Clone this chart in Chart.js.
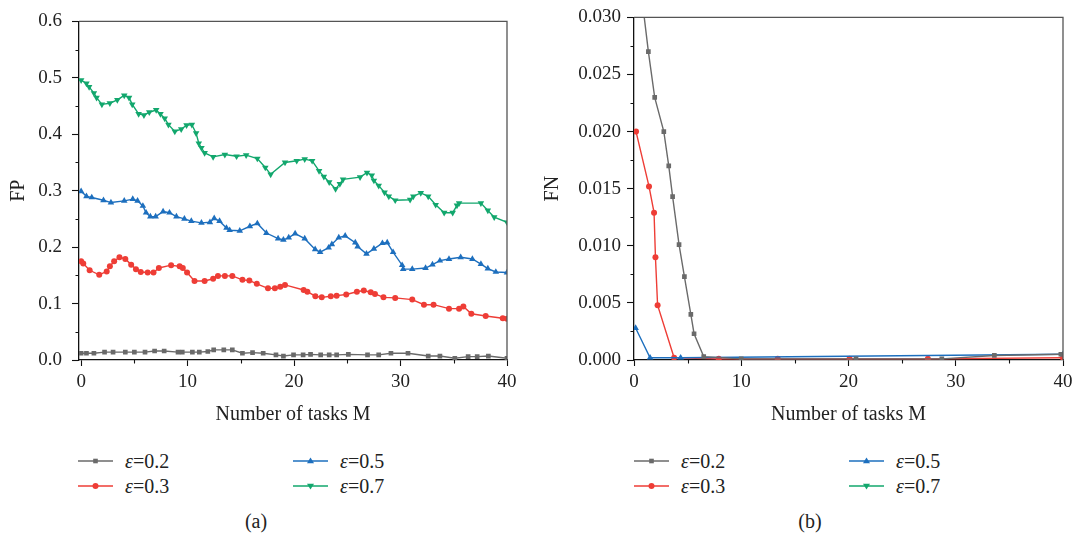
<!DOCTYPE html>
<html>
<head>
<meta charset="utf-8">
<script src="https://cdn.jsdelivr.net/npm/chart.js@4.4.1/dist/chart.umd.min.js"></script>
<style>
  body { margin: 0; background: #fff; width: 1072px; height: 542px; overflow: hidden; position: relative;
         font-family: 'Liberation Serif', 'DejaVu Serif', serif; color: #222; }
  .panel { position: absolute; top: 0; height: 432px; }
  .key { position: absolute; height: 24px; line-height: 24px; font-size: 20px; white-space: nowrap; }
  .key svg { position: absolute; left: 0; top: 6px; }
  .key span { position: absolute; }
  .cap { position: absolute; top: 510px; font-size: 20px; width: 60px; text-align: center; }
</style>
</head>
<body>
<div class="panel" style="left:0;width:536px"><canvas id="fpChart" width="536" height="432"></canvas></div>
<div class="panel" style="left:536px;width:580px"><canvas id="fnChart" width="580" height="432"></canvas></div>
<div id="legends"></div>
<div class="cap" style="left:226px">(a)</div>
<div class="cap" style="left:780px">(b)</div>

<script>
'use strict';

//#region Data

const seriesNames = ['0.2', '0.3', '0.5', '0.7'];
const seriesColors = ['#6a6a6a', '#ee3d36', '#1d6fbe', '#12a76d'];
const xTicks = [0, 10, 20, 30, 40];
const fpTicks = [0, 0.1, 0.2, 0.3, 0.4, 0.5, 0.6];
const fnTicks = [0, 0.005, 0.010, 0.015, 0.020, 0.025, 0.030];

// FP, panel (a): [tasks M, FP]
const fp02 = [[0,0.012],[0.5,0.012],[1.2,0.012],[2.2,0.014],[3.0,0.014],[4.15,0.014],[5.0,0.014],[6.0,0.014],
  [6.9,0.016],[7.8,0.016],[9.1,0.014],[9.5,0.014],[10.45,0.014],[11.1,0.014],[11.9,0.015],[12.45,0.018],
  [13.4,0.018],[14.2,0.018],[15.15,0.012],[16.1,0.013],[17.1,0.012],[18.3,0.009],[19.0,0.007],[19.95,0.009],
  [20.85,0.009],[21.55,0.010],[22.5,0.009],[23.3,0.009],[24.0,0.009],[25.1,0.010],[26.9,0.009],[27.95,0.009],
  [29.1,0.012],[30.7,0.012],[32.6,0.007],[33.7,0.007],[35.1,0.003],[36.35,0.006],[37.2,0.006],[38.25,0.007],[40,0.003]];
const fp03 = [[0,0.175],[0.2,0.171],[0.8,0.159],[1.7,0.151],[2.4,0.157],[2.7,0.166],[3.1,0.175],[3.6,0.182],
  [4.15,0.179],[4.7,0.169],[5.15,0.161],[5.6,0.156],[6.25,0.155],[6.8,0.155],[7.3,0.163],[8.45,0.168],
  [9.25,0.166],[9.55,0.163],[9.95,0.155],[10.65,0.140],[11.6,0.140],[12.4,0.144],[12.85,0.149],[13.5,0.149],
  [14.2,0.149],[15.15,0.142],[15.8,0.141],[16.5,0.135],[17.55,0.127],[18.2,0.127],[18.7,0.130],[19.15,0.133],
  [20.9,0.124],[21.25,0.121],[22.0,0.113],[22.6,0.111],[23.45,0.113],[24.0,0.114],[24.9,0.116],[25.9,0.121],
  [26.55,0.123],[27.2,0.120],[27.6,0.117],[28.4,0.111],[29.5,0.110],[31.1,0.107],[32.2,0.098],[33.1,0.098],
  [34.55,0.091],[35.5,0.091],[35.9,0.095],[36.65,0.082],[38.0,0.078],[39.6,0.074],[40,0.073]];
const fp05 = [[0,0.299],[0.5,0.290],[1.0,0.288],[2.1,0.283],[2.8,0.279],[4.05,0.282],[4.85,0.285],[5.3,0.282],
  [5.8,0.273],[6.1,0.261],[6.5,0.254],[7.0,0.254],[7.7,0.263],[8.3,0.261],[8.95,0.254],[9.7,0.250],
  [10.35,0.246],[11.3,0.243],[12.1,0.244],[12.5,0.251],[13.0,0.246],[13.65,0.234],[13.95,0.230],[14.9,0.229],
  [15.85,0.237],[16.55,0.242],[17.4,0.225],[18.5,0.215],[19.0,0.213],[19.5,0.217],[20.1,0.224],[21.0,0.215],
  [21.98,0.196],[22.45,0.191],[23.25,0.199],[23.55,0.205],[24.2,0.217],[24.8,0.220],[25.75,0.208],[25.97,0.201],
  [26.8,0.188],[27.5,0.197],[28.3,0.207],[28.75,0.208],[29.3,0.191],[30.15,0.168],[30.25,0.161],[31.1,0.161],
  [32.35,0.163],[33.0,0.169],[33.7,0.176],[34.55,0.179],[35.65,0.182],[36.75,0.179],[37.55,0.170],[38.2,0.162],
  [38.95,0.156],[40,0.155]];
const fp07 = [[0,0.496],[0.5,0.490],[0.75,0.484],[1.2,0.473],[1.45,0.465],[1.95,0.453],[2.7,0.455],[3.4,0.461],
  [4.05,0.469],[4.5,0.465],[4.8,0.453],[5.4,0.436],[5.9,0.434],[6.4,0.439],[7.05,0.443],[7.45,0.436],
  [7.85,0.428],[8.2,0.417],[8.8,0.405],[9.4,0.409],[9.9,0.416],[10.4,0.417],[10.8,0.402],[11.05,0.384],
  [11.3,0.376],[11.6,0.367],[12.4,0.360],[13.5,0.364],[14.6,0.361],[15.5,0.363],[16.55,0.357],[17.3,0.341],
  [17.8,0.329],[19.15,0.350],[20.25,0.353],[21.0,0.356],[21.7,0.353],[22.35,0.335],[22.8,0.325],[23.3,0.315],
  [23.9,0.303],[24.3,0.312],[24.6,0.320],[26.2,0.324],[26.85,0.332],[27.3,0.327],[27.5,0.318],[27.95,0.309],
  [28.5,0.297],[28.9,0.290],[29.5,0.283],[30.9,0.284],[31.2,0.290],[31.9,0.296],[32.6,0.290],[33.3,0.275],
  [34.1,0.261],[34.9,0.261],[35.3,0.274],[35.5,0.278],[37.55,0.278],[38.2,0.265],[38.8,0.253],[40,0.244]];

// FN, panel (b): [tasks M, FN]
const fn02 = [[0.7,0.032],[1.34,0.0270],[1.93,0.0230],[2.78,0.0200],[3.24,0.0170],[3.6,0.0143],[4.2,0.0101],
  [4.7,0.0073],[5.3,0.0040],[5.6,0.0023],[6.5,0.0003],[10,0.0001],[20.7,0.0001],[28.7,0.0001],[33.6,0.0004],[39.8,0.0005]];
const fn03 = [[0.19,0.0200],[1.4,0.0152],[1.87,0.0129],[2.0,0.0090],[2.2,0.0048],[3.74,0.0002],[7.9,0.0001],
  [13.4,0.0001],[20.1,0.0001],[27.4,0.0001],[40,0.0002]];
const fn05 = [[0.15,0.0028],[1.5,0.0002],[4.35,0.0002],[40,0.0005]];
const fn07 = [];

//#endregion

//#region Helpers

const FONT = "'Liberation Serif', 'DejaVu Serif', serif";
Chart.defaults.font.family = FONT;
Chart.defaults.color = '#222';

const markerStyles = [
  {pointStyle: 'rect', radius: 3.3, rotation: 0},
  {pointStyle: 'circle', radius: 3, rotation: 0},
  {pointStyle: 'triangle', radius: 3.8, rotation: 0},
  {pointStyle: 'triangle', radius: 3.8, rotation: 180}
];
// gray on top, then blue, red, green
const drawOrder = [0, 2, 1, 3];

function midpoints(arr) {
  const out = [];
  for (let i = 0; i < arr.length - 1; i++) {
    out.push((arr[i] + arr[i + 1]) / 2);
  }
  return out;
}

function toPoints(pairs) {
  return pairs.map(p => ({x: p[0], y: p[1]}));
}

function makeDataset(i, pairs) {
  const m = markerStyles[i];
  return {
    label: 'ε=' + seriesNames[i],
    data: toPoints(pairs),
    borderColor: seriesColors[i],
    backgroundColor: seriesColors[i],
    pointBackgroundColor: seriesColors[i],
    pointBorderColor: seriesColors[i],
    pointBorderWidth: 0,
    borderWidth: 1.4,
    tension: 0,
    pointStyle: m.pointStyle,
    pointRadius: m.radius,
    pointRotation: m.rotation,
    order: drawOrder[i]
  };
}

// box top/right edges and short minor ticks
const frameAndMinor = {
  id: 'frameAndMinor',
  afterDraw(chart, args, opts) {
    const {ctx, chartArea: a} = chart;
    const x = chart.scales.x;
    const y = chart.scales.y;
    ctx.save();
    ctx.strokeStyle = '#555';
    ctx.lineWidth = 1.3;
    ctx.beginPath();
    ctx.moveTo(a.left, a.top);
    ctx.lineTo(a.right, a.top);
    ctx.lineTo(a.right, a.bottom);
    ctx.stroke();
    ctx.strokeStyle = '#111';
    ctx.lineWidth = 1.1;
    ctx.beginPath();
    opts.xMinor.forEach(v => {
      const px = Math.round(x.getPixelForValue(v)) + 0.5;
      ctx.moveTo(px, a.bottom);
      ctx.lineTo(px, a.bottom + 3.5);
    });
    opts.yMinor.forEach(v => {
      const py = Math.round(y.getPixelForValue(v)) + 0.5;
      ctx.moveTo(a.left, py);
      ctx.lineTo(a.left - 3.5, py);
    });
    ctx.stroke();
    ctx.restore();
  }
};

function makeChart(canvasId, sets, opt) {
  const ctx = document.getElementById(canvasId).getContext('2d');
  return new Chart(ctx, {
    type: 'line',
    data: {datasets: sets.map((s, i) => makeDataset(i, s))},
    plugins: [frameAndMinor],
    options: {
      responsive: false,
      animation: false,
      layout: {padding: {top: 14, right: opt.padRight, bottom: 0, left: 0}},
      plugins: {
        legend: {display: false},
        tooltip: {enabled: false},
        frameAndMinor: {xMinor: midpoints(xTicks), yMinor: midpoints(opt.yTicks)}
      },
      scales: {
        x: {
          type: 'linear',
          min: opt.xMin,
          max: 40,
          afterBuildTicks: s => { s.ticks = xTicks.map(v => ({value: v})); },
          afterFit: s => { s.height = 72; },
          border: {color: '#111', width: 1.3},
          grid: {drawOnChartArea: false, tickLength: 6, color: '#111', tickWidth: 1.1},
          ticks: {font: {size: 19}, padding: 5, color: '#222', maxRotation: 0},
          title: {display: true, text: 'Number of tasks M', font: {size: 20}, color: '#222',
            padding: {top: 0, bottom: 5}}
        },
        y: {
          min: 0,
          max: opt.yMax,
          afterBuildTicks: s => { s.ticks = opt.yTicks.map(v => ({value: v})); },
          afterFit: s => { s.width = opt.yWidth; },
          border: {color: '#111', width: 1.3},
          grid: {drawOnChartArea: false, tickLength: 7, color: '#111', tickWidth: 1.1},
          ticks: {font: {size: 19}, padding: opt.tickPad, color: '#222',
            callback: v => v.toFixed(opt.digits)},
          title: {display: true, text: opt.yTitle, font: {size: 20}, color: '#222',
            padding: {top: opt.titlePad, bottom: 0}}
        }
      }
    }
  });
}

function renderLegend(left) {
  const holder = document.getElementById('legends');
  const cols = [0, 215];
  const rows = [449, 474];
  const layout = [[0, 0], [0, 1], [1, 0], [1, 1]];
  for (let i = 0; i < seriesNames.length; i++) {
    const [c, r] = layout[i];
    const item = document.createElement('div');
    item.className = 'key';
    item.style.left = (left + cols[c]) + 'px';
    item.style.top = rows[r] + 'px';
    const col = seriesColors[i];
    let mark;
    if (i === 0) mark = `<rect x="15.2" y="3.7" width="4.6" height="4.6" fill="${col}"/>`;
    else if (i === 1) mark = `<circle cx="17.5" cy="6" r="3" fill="${col}"/>`;
    else if (i === 2) mark = `<polygon points="17.5,2.6 21,8.2 14,8.2" fill="${col}"/>`;
    else mark = `<polygon points="17.5,9.4 21,3.8 14,3.8" fill="${col}"/>`;
    item.innerHTML = `<svg width="36" height="12"><line x1="0" y1="6" x2="35" y2="6" stroke="${col}" stroke-width="1.5"/>${mark}</svg>` +
      `<span style="left:47px;top:0"><i>ε</i>=${seriesNames[i]}</span>`;
    holder.appendChild(item);
  }
}

//#endregion

makeChart('fpChart', [fp02, fp03, fp05, fp07], {
  padRight: 29, xMin: -0.2, yMax: 0.6, yTicks: fpTicks, yWidth: 79, tickPad: 10,
  digits: 1, yTitle: 'FP', titlePad: 6.5
});

makeChart('fnChart', [fn02, fn03, fn05, fn07], {
  padRight: 53, xMin: 0, yMax: 0.03, yTicks: fnTicks, yWidth: 98, tickPad: 6,
  digits: 3, yTitle: 'FN', titlePad: 5
});

renderLegend(78);
renderLegend(634);
</script>
</body>
</html>
